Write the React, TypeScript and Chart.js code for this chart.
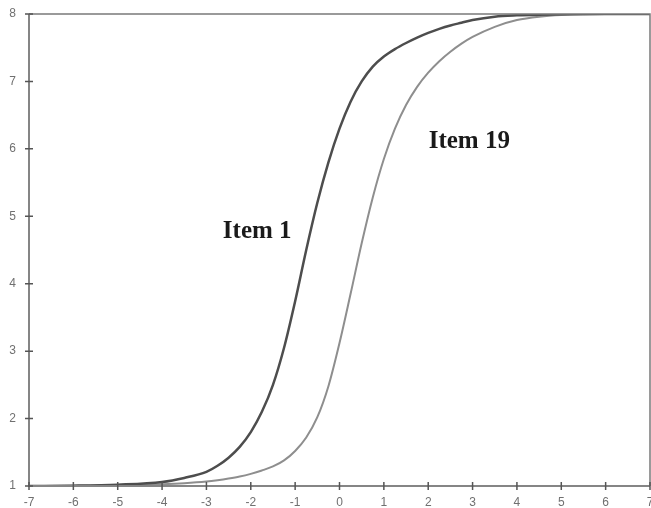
import React, { useEffect, useRef } from "react";
import { Chart, registerables } from "chart.js";

Chart.register(...registerables);

const xValues = [-7, -6, -5, -4, -3.5, -3, -2.75, -2.5, -2.25, -2, -1.75, -1.5, -1.25, -1, -0.75, -0.5, -0.25, 0, 0.25, 0.5, 0.75, 1, 1.25, 1.5, 1.75, 2, 2.25, 2.5, 2.75, 3, 3.5, 4, 4.5, 5, 6, 7];
const item1 = [1.0, 1.005, 1.02, 1.06, 1.12, 1.21, 1.3, 1.42, 1.58, 1.8, 2.1, 2.5, 3.05, 3.74, 4.5, 5.2, 5.8, 6.3, 6.7, 7.0, 7.22, 7.37, 7.48, 7.57, 7.65, 7.72, 7.78, 7.83, 7.87, 7.91, 7.96, 7.98, 7.99, 7.995, 8, 8];
const item19 = [1.0, 1.002, 1.008, 1.025, 1.04, 1.065, 1.085, 1.11, 1.14, 1.18, 1.23, 1.29, 1.38, 1.52, 1.72, 2.02, 2.48, 3.12, 3.85, 4.6, 5.28, 5.85, 6.3, 6.65, 6.92, 7.13, 7.3, 7.44, 7.56, 7.66, 7.81, 7.91, 7.96, 7.985, 8, 8];
const xTicks = [-7, -6, -5, -4, -3, -2, -1, 0, 1, 2, 3, 4, 5, 6, 7];
const yTicks = [1, 2, 3, 4, 5, 6, 7, 8];
const annotations = [
  { text: "Item 1", x: -2.63, y: 4.68 },
  { text: "Item 19", x: 2.01, y: 6.01 },
];

const framePlugin = {
  id: "frame",
  afterDatasetsDraw(chart: any) {
    const { ctx, chartArea, scales } = chart;
    const xs = scales.x;
    const ys = scales.y;
    ctx.save();
    ctx.strokeStyle = "#7a7a7a";
    ctx.lineWidth = 1.5;
    ctx.beginPath();
    ctx.moveTo(chartArea.left, chartArea.top);
    ctx.lineTo(chartArea.right, chartArea.top);
    ctx.lineTo(chartArea.right, chartArea.bottom);
    ctx.stroke();
    ctx.strokeStyle = "#858585";
    ctx.lineWidth = 2;
    ctx.beginPath();
    ctx.moveTo(chartArea.left, chartArea.top);
    ctx.lineTo(chartArea.left, chartArea.bottom);
    ctx.lineTo(chartArea.right, chartArea.bottom);
    ctx.stroke();
    ctx.strokeStyle = "#555";
    ctx.lineWidth = 1.5;
    ctx.beginPath();
    for (const t of xTicks) {
      const px = xs.getPixelForValue(t);
      ctx.moveTo(px, chartArea.bottom - 4);
      ctx.lineTo(px, chartArea.bottom + 4);
    }
    for (const t of yTicks) {
      const py = ys.getPixelForValue(t);
      ctx.moveTo(chartArea.left - 4, py);
      ctx.lineTo(chartArea.left + 4, py);
    }
    ctx.stroke();
    ctx.fillStyle = "#1a1a1a";
    ctx.font = "bold 25px 'Liberation Serif', 'Times New Roman', serif";
    ctx.textAlign = "left";
    ctx.textBaseline = "alphabetic";
    for (const a of annotations) {
      ctx.fillText(a.text, xs.getPixelForValue(a.x), ys.getPixelForValue(a.y));
    }
    ctx.restore();
  },
};

const zeroPad = (s: any) => {
  s.paddingLeft = 0;
  s.paddingRight = 0;
  s.paddingTop = 0;
  s.paddingBottom = 0;
};

export default function App() {
  const ref = useRef<HTMLCanvasElement>(null);
  useEffect(() => {
    if (!ref.current) return;
    const chart = new Chart(ref.current, {
      type: "line",
      data: {
        datasets: [
          {
            label: "Item 1",
            data: xValues.map((x, i) => ({ x, y: item1[i] })),
            borderColor: "#4d4d4d",
            borderWidth: 2.5,
            pointRadius: 0,
            cubicInterpolationMode: "monotone",
            fill: false,
          },
          {
            label: "Item 19",
            data: xValues.map((x, i) => ({ x, y: item19[i] })),
            borderColor: "#8e8e8e",
            borderWidth: 2,
            pointRadius: 0,
            cubicInterpolationMode: "monotone",
            fill: false,
          },
        ],
      },
      options: {
        responsive: false,
        animation: false,
        events: [],
        layout: { padding: { top: 14, right: 1, left: 0, bottom: 0 } },
        plugins: { legend: { display: false }, tooltip: { enabled: false } },
        scales: {
          x: {
            type: "linear",
            min: -7,
            max: 7,
            grid: { display: false, drawTicks: false, tickLength: 0 },
            border: { display: false },
            afterFit: (s: any) => { s.height = 22; zeroPad(s); },
            afterBuildTicks: (s: any) => { s.ticks = xTicks.map((v) => ({ value: v })); },
            ticks: {
              autoSkip: false,
              maxRotation: 0,
              padding: 9,
              color: "#707070",
              font: { family: "'Liberation Sans', Arial, sans-serif", size: 12 },
            },
          },
          y: {
            type: "linear",
            min: 1,
            max: 8,
            grid: { display: false, drawTicks: false, tickLength: 0 },
            border: { display: false },
            afterFit: (s: any) => { s.width = 29; zeroPad(s); },
            afterBuildTicks: (s: any) => { s.ticks = yTicks.map((v) => ({ value: v })); },
            ticks: {
              autoSkip: false,
              padding: 13,
              color: "#707070",
              font: { family: "'Liberation Sans', Arial, sans-serif", size: 12 },
            },
          },
        },
      },
      plugins: [framePlugin],
    } as any);
    return () => chart.destroy();
  }, []);
  return (
    <div style={{ position: "fixed", left: 0, top: 0, width: 651, height: 508, background: "#fff" }}>
      <canvas ref={ref} width={651} height={508} style={{ display: "block" }} />
    </div>
  );
}
